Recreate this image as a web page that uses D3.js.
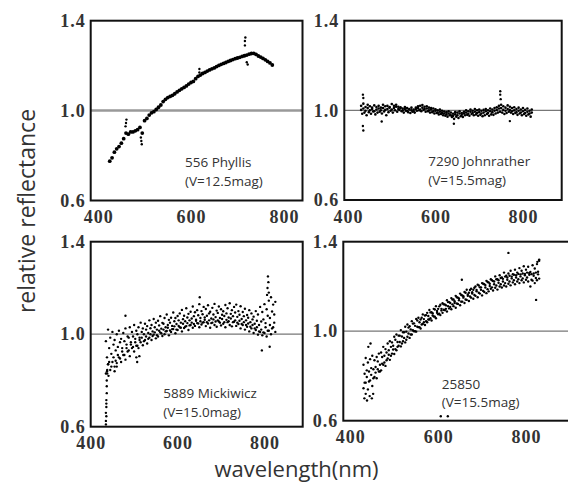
<!DOCTYPE html>
<html>
<head>
<meta charset="utf-8">
<script src="https://cdn.jsdelivr.net/npm/d3@7"></script>
<style>
  body { margin: 0; background: #fff; }
</style>
</head>
<body>
<script>
// wavelength grids (nm)
var wavePhyllis = [425,430,435,440,445,450,455,460,465,470,475,480,485,490,495,500,505,510,515,520,525,530,535,540,545,550,555,560,565,570,575,580,585,590,595,600,605,610,615,620,625,630,635,640,645,650,655,660,665,670,675,680,685,690,695,700,705,710,715,720,725,730,735,740,745,750,755,760,765,770,775];
var waveGrid = [430,435,440,445,450,455,460,465,470,475,480,485,490,495,500,505,510,515,520,525,530,535,540,545,550,555,560,565,570,575,580,585,590,595,600,605,610,615,620,625,630,635,640,645,650,655,660,665,670,675,680,685,690,695,700,705,710,715,720,725,730,735,740,745,750,755,760,765,770,775,780,785,790,795,800,805,810,815,820,825,830];
var waveHalf = [432.5,437.5,442.5,447.5,452.5,457.5,462.5,467.5,472.5,477.5,482.5,487.5,492.5,497.5,502.5,507.5,512.5,517.5,522.5,527.5,532.5,537.5,542.5,547.5,552.5,557.5,562.5,567.5,572.5,577.5,582.5,587.5,592.5,597.5,602.5,607.5,612.5,617.5,622.5,627.5,632.5,637.5,642.5,647.5,652.5,657.5,662.5,667.5,672.5,677.5,682.5,687.5,692.5,697.5,702.5,707.5,712.5,717.5,722.5,727.5,732.5,737.5,742.5,747.5,752.5,757.5,762.5,767.5,772.5,777.5,782.5,787.5,792.5,797.5,802.5,807.5,812.5,817.5,822.5,827.5,832.5];

var tickX = [400, 600, 800];
var tickY = [0.6, 1.0, 1.4];

// 556 Phyllis
var phyllis = [0.775,0.79,0.815,0.83,0.84,0.855,0.875,0.90,0.895,0.905,0.905,0.91,0.915,0.925,0.90,0.955,0.965,0.98,0.99,0.995,1.005,1.015,1.025,1.04,1.05,1.058,1.063,1.068,1.075,1.083,1.09,1.097,1.103,1.11,1.118,1.125,1.13,1.142,1.152,1.158,1.165,1.17,1.176,1.181,1.186,1.19,1.196,1.201,1.206,1.21,1.214,1.219,1.223,1.227,1.231,1.234,1.237,1.241,1.244,1.247,1.251,1.254,1.255,1.25,1.243,1.238,1.232,1.226,1.219,1.212,1.203];
var phyllisExtra = [[459,0.93],[460,0.945],[461,0.96],[492,0.88],[493,0.865],[494,0.85],[618,1.17],[618,1.185],[716,1.29],[716,1.31],[717,1.325],[720,1.215],[722,1.205]];

// 7290 Johnrather
var johnA = [1.02,1.03,1.015,1.025,1.018,1.012,1.022,1.015,1.02,1.012,1.025,1.018,1.02,1.015,1.028,1.02,1.025,1.016,1.014,1.008,1.015,1.01,1.006,1.012,1.004,1.012,1.018,1.02,1.024,1.016,1.018,1.012,1.01,1.008,1.005,1.0,1.004,0.998,0.995,0.992,0.996,0.99,0.985,0.992,0.99,0.996,0.988,0.994,1.0,0.996,1.004,0.998,1.006,1.0,1.004,0.998,1.002,1.006,1.0,1.008,1.004,1.01,1.014,1.02,1.025,1.018,1.012,1.022,1.016,1.01,1.014,1.006,1.012,1.004,1.01,1.002,1.008,0.998,1.004,null,null];
var johnB = [0.985,0.99,0.978,0.992,0.985,0.995,0.982,0.99,0.994,0.986,0.995,0.978,0.992,0.998,0.99,1.0,0.994,1.002,0.996,0.99,0.998,0.992,0.988,0.994,0.99,0.998,1.0,0.996,1.002,0.994,0.996,0.99,0.992,0.986,0.988,0.982,0.984,0.978,0.976,0.972,0.978,0.97,0.962,0.972,0.966,0.974,0.97,0.978,0.98,0.976,0.984,0.978,0.982,0.976,0.98,0.974,0.978,0.984,0.976,0.982,0.98,0.986,0.99,0.994,0.99,0.984,0.988,0.994,0.99,0.984,0.988,0.98,0.986,0.978,0.984,0.976,0.982,0.972,null,null,null];
var johnC = [1.002,1.008,0.998,1.01,1.0,1.006,0.996,1.004,1.008,1.0,1.01,1.002,1.006,1.012,1.004,1.01,1.016,1.006,1.01,1.0,1.006,0.998,1.004,1.0,0.996,1.006,1.01,1.004,1.012,1.006,1.008,1.0,1.004,0.996,0.998,0.99,0.994,0.988,0.986,0.982,0.986,0.978,0.975,0.982,0.978,0.986,0.98,0.986,0.99,0.985,0.994,0.988,0.994,0.988,0.992,0.986,0.99,0.996,0.988,0.996,0.992,0.998,1.002,1.008,1.01,1.002,0.998,1.006,1.002,0.996,1.0,0.992,0.998,0.99,0.996,0.988,0.994,0.986,0.99,null,null];
var johnExtra = [[434,1.07],[435,1.055],[434,0.93],[435,0.91],[748,1.085],[748,1.07],[749,1.05],[642,0.94],[477,0.95],[770,0.952]];

// 5889 Mickiwicz
var mickA = [null,0.97,1.02,0.985,1.01,0.975,1.0,1.015,0.98,1.005,1.025,0.99,1.03,1.01,1.04,1.015,1.03,1.05,1.025,1.045,1.035,1.06,1.04,1.066,1.05,1.058,1.078,1.049,1.07,1.085,1.062,1.071,1.094,1.07,1.079,1.09,1.105,1.08,1.112,1.088,1.097,1.12,1.095,1.104,1.13,1.1,1.118,1.109,1.125,1.097,1.114,1.131,1.102,1.12,1.108,1.099,1.126,1.112,1.134,1.104,1.118,1.128,1.1,1.121,1.096,1.11,1.083,1.104,1.09,1.076,1.1,1.085,1.118,1.096,1.13,1.108,1.145,1.16,1.128,1.14,null];
var mickB = [null,0.9,0.94,0.915,0.955,0.93,0.945,0.965,0.94,0.97,0.955,0.985,0.965,0.99,0.98,1.0,0.985,1.01,1.0,1.02,1.005,1.026,1.012,1.03,1.02,1.038,1.024,1.045,1.03,1.04,1.05,1.036,1.056,1.044,1.06,1.05,1.065,1.056,1.072,1.06,1.068,1.078,1.063,1.082,1.07,1.086,1.072,1.08,1.09,1.068,1.085,1.074,1.092,1.07,1.084,1.079,1.09,1.072,1.088,1.078,1.094,1.075,1.084,1.066,1.078,1.06,1.071,1.052,1.064,1.045,1.058,1.04,1.055,1.064,1.048,1.08,1.07,1.098,1.085,null,null];
var mickC = [null,0.83,0.87,0.845,0.88,0.86,0.875,0.9,0.88,0.91,0.89,0.925,0.905,0.94,0.925,0.95,0.94,0.965,0.952,0.975,0.96,0.985,0.975,0.998,0.982,0.99,1.008,0.992,1.0,1.014,0.995,1.01,1.022,1.004,1.018,1.03,1.012,1.027,1.035,1.018,1.04,1.028,1.036,1.048,1.03,1.042,1.052,1.035,1.046,1.028,1.05,1.04,1.032,1.055,1.038,1.045,1.03,1.052,1.04,1.034,1.054,1.036,1.044,1.025,1.04,1.02,1.032,1.012,1.025,1.005,1.018,0.998,1.01,0.995,1.005,0.99,1.015,1.0,1.03,1.01,null];
var mickD = [null,0.84,0.88,0.86,0.9,0.885,0.91,0.895,0.925,0.91,0.94,0.93,0.955,0.945,0.965,0.95,0.975,0.985,0.97,0.99,0.98,1.0,0.992,1.008,0.996,1.015,1.004,1.02,1.012,1.028,1.016,1.022,1.034,1.02,1.036,1.028,1.045,1.032,1.048,1.038,1.05,1.044,1.058,1.046,1.056,1.05,1.062,1.052,1.06,1.048,1.064,1.055,1.06,1.05,1.066,1.052,1.062,1.056,1.068,1.052,1.06,1.05,1.058,1.044,1.052,1.04,1.046,1.032,1.04,1.025,1.03,1.012,1.02,1.008,1.03,1.015,1.04,1.025,1.05,null,null];
var mickExtra = [[435,0.61],[435,0.625],[436,0.645],[435,0.66],[436,0.685],[436,0.70],[436,0.715],[437,0.745],[437,0.775],[437,0.80],[438,0.83],[438,0.845],[440,0.87],[441,0.82],
  [808,1.25],[809,1.225],[807,1.2],[810,1.18],[806,1.17],[794,0.93],[812,0.946],[651,1.16],[480,1.08],[505,0.9],[507,0.88],[512,0.905],[455,0.84],[460,0.86]];

// 25850
var astA = [0.85,0.88,0.86,0.875,0.89,0.87,0.885,0.9,0.905,0.93,0.92,0.945,0.955,0.95,0.975,0.985,0.98,1.005,0.995,1.02,1.03,1.022,1.045,1.035,1.055,1.06,1.052,1.075,1.07,1.082,1.095,1.085,1.1,1.112,1.1,1.118,1.125,1.12,1.138,1.13,1.148,1.142,1.158,1.15,1.168,1.16,1.175,1.185,1.172,1.19,1.185,1.2,1.208,1.196,1.215,1.21,1.225,1.218,1.232,1.224,1.245,1.232,1.25,1.24,1.262,1.248,1.258,1.27,1.255,1.275,1.262,1.282,1.27,1.29,1.275,1.288,1.265,1.295,1.28,1.3,1.315];
var astB = [0.81,0.825,0.82,0.835,0.83,0.84,0.865,0.85,0.885,0.89,0.905,0.915,0.93,0.935,0.962,0.952,0.98,0.976,0.995,0.998,1.016,1.008,1.034,1.024,1.048,1.04,1.06,1.054,1.072,1.068,1.084,1.08,1.097,1.09,1.111,1.1,1.12,1.116,1.13,1.126,1.142,1.134,1.152,1.146,1.162,1.156,1.172,1.164,1.184,1.174,1.194,1.184,1.204,1.196,1.212,1.206,1.22,1.212,1.228,1.222,1.232,1.228,1.238,1.234,1.244,1.24,1.248,1.244,1.252,1.25,1.256,1.254,1.258,1.256,1.262,1.26,1.255,1.258,1.262,1.266,null];
var astC = [0.745,0.77,0.74,0.78,0.755,0.795,0.79,0.82,0.825,0.85,0.845,0.878,0.872,0.9,0.898,0.915,0.935,0.932,0.955,0.95,0.975,0.97,0.985,1.0,0.998,1.018,1.012,1.032,1.028,1.04,1.052,1.048,1.066,1.058,1.076,1.072,1.082,1.094,1.088,1.102,1.098,1.112,1.105,1.122,1.116,1.132,1.126,1.14,1.135,1.15,1.145,1.158,1.152,1.168,1.16,1.175,1.17,1.178,1.19,1.182,1.194,1.186,1.2,1.195,1.204,1.2,1.212,1.205,1.218,1.21,1.222,1.215,1.228,1.218,1.23,1.222,1.2,1.226,1.215,1.228,1.235];
var astD = [0.77,0.795,0.775,0.805,0.79,0.815,0.83,0.82,0.855,0.86,0.87,0.895,0.89,0.918,0.92,0.93,0.952,0.945,0.97,0.962,0.99,0.985,1.004,1.0,1.02,1.018,1.03,1.04,1.045,1.052,1.058,1.07,1.065,1.082,1.078,1.092,1.096,1.1,1.112,1.108,1.12,1.126,1.124,1.138,1.132,1.15,1.142,1.158,1.155,1.168,1.162,1.178,1.172,1.185,1.18,1.195,1.188,1.202,1.196,1.21,1.204,1.216,1.21,1.222,1.215,1.23,1.222,1.236,1.228,1.24,1.232,1.245,1.236,1.25,1.24,1.252,1.23,1.248,1.238,1.254,null];
var astExtra = [[432,0.70],[435,0.72],[438,0.69],[444,0.71],[449,0.70],[452,0.72],[441,0.93],[446,0.945],[654,1.23],[760,1.35],[823,1.14],[830,1.32],[826,1.31],[606,0.62],[622,0.62]];

// layout of the four boxes (pixels) and their wavelength span
var panels = [
  {name: "556 Phyllis", mag: "(V=12.5mag)", box: [90.7, 20.7, 302.5, 200.5], xd: [384, 840],
   series: [[wavePhyllis, phyllis]], extra: phyllisExtra, r: 1.9, text: [185, 167, 185.5],
   line: {color: "#999", width: 2.5}},
  {name: "7290 Johnrather", mag: "(V=15.5mag)", box: [344.3, 20.7, 561.7, 200], xd: [391.5, 888.5],
   series: [[waveGrid, johnA], [waveHalf, johnB], [waveGrid, johnC]], extra: johnExtra, r: 1.3, text: [428.3, 166, 184.5],
   line: {color: "#777", width: 1.2}},
  {name: "5889 Mickiwicz", mag: "(V=15.0mag)", box: [90.7, 241.7, 302.7, 426.7], xd: [400, 888],
   series: [[waveGrid, mickA], [waveHalf, mickB], [waveGrid, mickC], [waveHalf, mickD]], extra: mickExtra, r: 1.2, text: [163.3, 398, 416.5],
   line: {color: "#777", width: 1.2}},
  {name: "25850", mag: "(V=15.5mag)", box: [343.3, 241.7, 580, 420.7], xd: [384, 923],
   series: [[waveGrid, astA], [waveHalf, astB], [waveGrid, astC], [waveHalf, astD]], extra: astExtra, r: 1.2, text: [441.7, 388.5, 407],
   line: {color: "#777", width: 1.2}}
];

var width = 568, height = 491;

var svg = d3.select("body").append("svg")
    .attr("width", width)
    .attr("height", height);

panels.forEach(function (p) {
    var x = d3.scaleLinear().domain(p.xd).range([p.box[0], p.box[2]]);
    var y = d3.scaleLinear().domain([0.6, 1.4]).range([p.box[3], p.box[1]]);
    var g = svg.append("g");

    // reference line at 1.0
    g.append("line")
        .attr("x1", p.box[0]).attr("x2", p.box[2])
        .attr("y1", y(1.0)).attr("y2", y(1.0))
        .attr("stroke", p.line.color)
        .attr("stroke-width", p.line.width);

    // spectra points
    p.series.forEach(function (s) {
        var wave = s[0], vals = s[1];
        var pts = wave.map(function (w, i) { return [w, vals[i]]; })
            .filter(function (d) { return d[1] != null; });
        g.selectAll(null)
            .data(pts)
            .enter().append("circle")
            .attr("cx", function (d) { return x(d[0]); })
            .attr("cy", function (d) { return y(d[1]); })
            .attr("r", p.r)
            .attr("fill", "#000");
    });

    g.selectAll(null)
        .data(p.extra)
        .enter().append("circle")
        .attr("cx", function (d) { return x(d[0]); })
        .attr("cy", function (d) { return y(d[1]); })
        .attr("r", 1.2)
        .attr("fill", "#000");

    // frame
    g.append("rect")
        .attr("x", p.box[0]).attr("y", p.box[1])
        .attr("width", p.box[2] - p.box[0])
        .attr("height", p.box[3] - p.box[1])
        .attr("fill", "none")
        .attr("stroke", "#111")
        .attr("stroke-width", 2);

    // axes
    var ay = g.append("g")
        .attr("transform", "translate(" + p.box[0] + ",0)")
        .call(d3.axisLeft(y).tickValues(tickY).tickFormat(d3.format(".1f")).tickSize(0).tickPadding(5));
    var ax = g.append("g")
        .attr("transform", "translate(0," + p.box[3] + ")")
        .call(d3.axisBottom(x).tickValues(tickX).tickSize(0).tickPadding(10));
    [ax, ay].forEach(function (a) {
        a.select(".domain").remove();
        a.selectAll("text")
            .attr("font-family", "'Liberation Serif', serif")
            .attr("font-weight", "bold")
            .attr("font-size", 18)
            .attr("letter-spacing", 1)
            .attr("fill", "#333");
    });

    // object label
    g.append("text")
        .attr("x", p.text[0]).attr("y", p.text[1])
        .attr("font-family", "'Open Sans', sans-serif")
        .attr("font-size", 13.5)
        .attr("fill", "#333")
        .text(p.name);
    g.append("text")
        .attr("x", p.text[0]).attr("y", p.text[2])
        .attr("font-family", "'Open Sans', sans-serif")
        .attr("font-size", 13.5)
        .attr("fill", "#333")
        .text(p.mag);
});

// axis titles
svg.append("text")
    .attr("transform", "translate(35,211) rotate(-90)")
    .attr("text-anchor", "middle")
    .attr("font-family", "'Open Sans', sans-serif")
    .attr("font-size", 23)
    .attr("fill", "#333")
    .text("relative reflectance");

svg.append("text")
    .attr("x", 296.5)
    .attr("y", 477)
    .attr("text-anchor", "middle")
    .attr("font-family", "'Open Sans', sans-serif")
    .attr("font-size", 22)
    .attr("fill", "#333")
    .text("wavelength(nm)");
</script>
</body>
</html>
